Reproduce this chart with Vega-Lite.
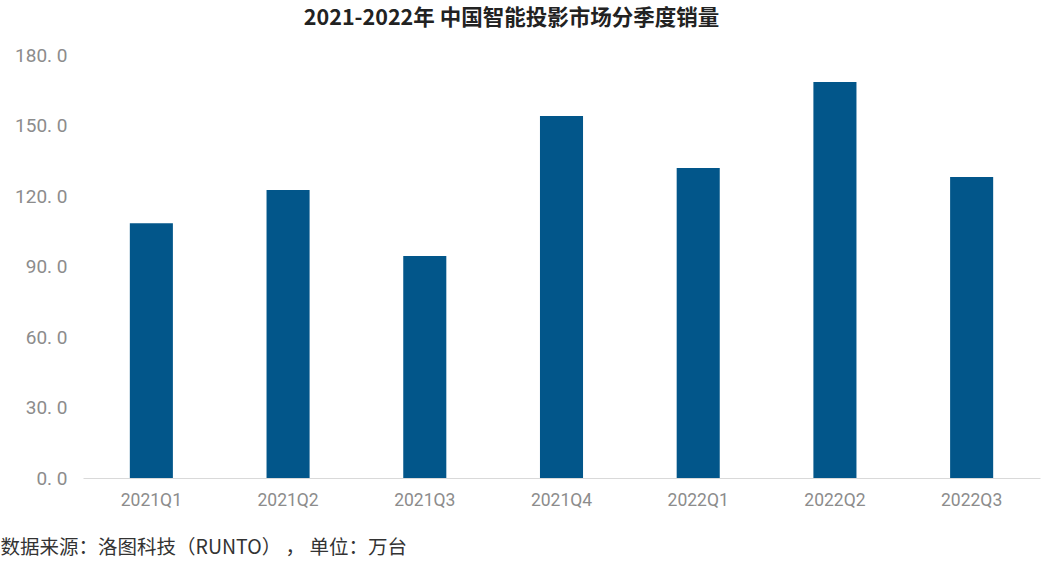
{
  "$schema": "https://vega.github.io/schema/vega-lite/v6.json",
  "width": 957,
  "height": 423,
  "autosize": "none",
  "padding": {"left": 83, "top": 55, "right": 17, "bottom": 95},
  "background": "white",
  "title": {
    "text": "2021-2022年 中国智能投影市场分季度销量",
    "font": "Noto Sans CJK SC",
    "fontSize": 21.5,
    "fontWeight": "bold",
    "color": "#222222",
    "anchor": "middle",
    "dx": -50,
    "offset": 17
  },
  "data": {
    "values": [
      {"quarter": "2021Q1", "sales": 108.4},
      {"quarter": "2021Q2", "sales": 122.6},
      {"quarter": "2021Q3", "sales": 94.5},
      {"quarter": "2021Q4", "sales": 154.0},
      {"quarter": "2022Q1", "sales": 131.9},
      {"quarter": "2022Q2", "sales": 168.5},
      {"quarter": "2022Q3", "sales": 128.1}
    ]
  },
  "mark": {"type": "bar", "color": "#02568A"},
  "encoding": {
    "x": {
      "field": "quarter",
      "type": "nominal",
      "sort": null,
      "scale": {"paddingInner": 0.685, "paddingOuter": 0.3425},
      "axis": {
        "labelAngle": 0,
        "labelFont": "Roboto",
        "labelFontSize": 17.5,
        "labelColor": "#8c8c8c",
        "labelPadding": 13,
        "ticks": false,
        "domainColor": "#d9d9d9",
        "domainWidth": 1,
        "title": "数据来源：洛图科技（RUNTO） ， 单位：万台",
        "titleFont": "Noto Sans CJK SC",
        "titleFontSize": 19.5,
        "titleFontWeight": "normal",
        "titleColor": "#333333",
        "titleAnchor": "start",
        "titleAlign": "left",
        "titleX": -83,
        "titleY": 69,
        "titleBaseline": "middle"
      }
    },
    "y": {
      "field": "sales",
      "type": "quantitative",
      "scale": {"domain": [0, 180], "nice": false},
      "axis": {
        "values": [0, 30, 60, 90, 120, 150, 180],
        "labelExpr": "replace(format(datum.value, '.1f'), '.', '. ')",
        "labelFont": "Roboto",
        "labelFontSize": 19,
        "labelColor": "#8c8c8c",
        "labelPadding": 16,
        "ticks": false,
        "domain": false,
        "grid": false,
        "title": null
      }
    }
  },
  "config": {"view": {"stroke": null}}
}
